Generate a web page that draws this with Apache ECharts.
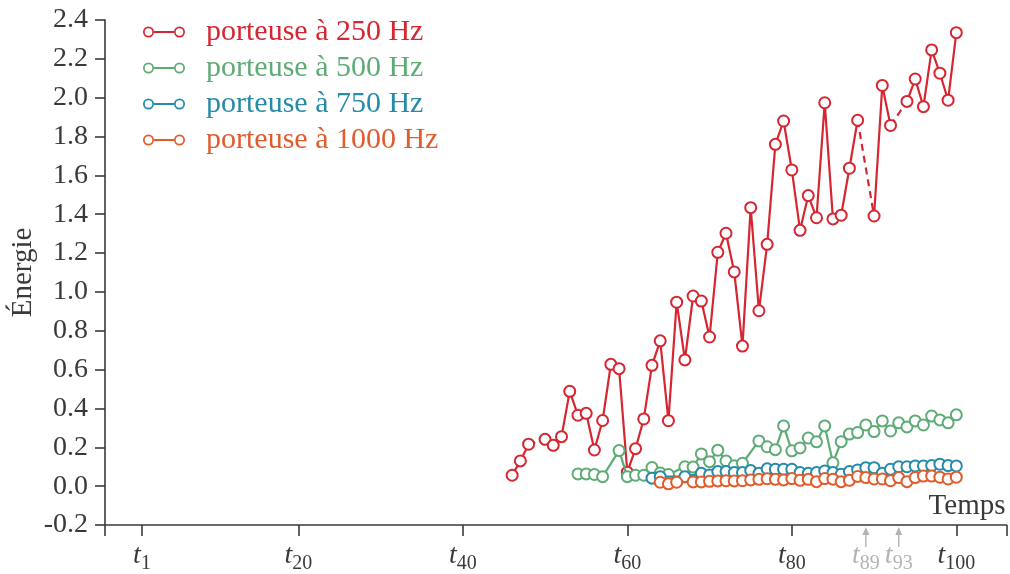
<!DOCTYPE html>
<html>
<head>
<meta charset="utf-8">
<script src="https://cdn.jsdelivr.net/npm/echarts@6/dist/echarts.min.js"></script>
<style>
  html, body { margin: 0; padding: 0; background: #fff; }
  #chart { width: 1010px; height: 574px; }
</style>
</head>
<body>
<div id="chart"></div>
<script>
// séries d'énergie, une valeur par instant t (null = point manquant)
const seriesNames = ['porteuse à 250 Hz', 'porteuse à 500 Hz', 'porteuse à 750 Hz', 'porteuse à 1000 Hz'];
const seriesColors = ['#d62631', '#5eab76', '#248ba8', '#e15b2b'];

const start250 = 46;
const energy250 = [0.056, 0.130, 0.216, null, 0.241, 0.210, 0.255, 0.488, 0.365, 0.375,
  0.186, 0.338, 0.627, 0.605, 0.072, 0.193, 0.346, 0.622, 0.748, 0.337,
  0.947, 0.650, 0.979, 0.953, 0.768, 1.204, 1.302, 1.103, 0.721, 1.434,
  0.903, 1.245, 1.760, 1.880, 1.628, 1.317, 1.496, 1.382, 1.974, 1.376,
  1.395, 1.637, 1.884, null, 1.391, 2.063, 1.857, null, 1.981, 2.096,
  1.954, 2.246, 2.126, 1.987, 2.335];

const start500 = 54;
const energy500 = [0.063, 0.063, 0.060, 0.049, null, 0.183, 0.049, 0.056, 0.056, 0.096,
  0.068, 0.060, null, 0.100, 0.098, 0.166, 0.126, 0.185, 0.130, 0.105,
  0.118, null, 0.233, 0.203, 0.188, 0.310, 0.182, 0.197, 0.248, 0.228,
  0.310, 0.120, 0.229, 0.268, 0.276, 0.315, 0.281, 0.336, 0.284, 0.326,
  0.305, 0.336, 0.315, 0.361, 0.341, 0.326, 0.367];

const start750 = 63;
const energy750 = [0.041, 0.049, null, null, 0.049, null, 0.066, 0.058, 0.075, 0.075,
  0.070, 0.070, 0.080, 0.066, 0.089, 0.087, 0.087, 0.087, 0.070, 0.066,
  0.070, 0.078, 0.070, 0.061, 0.075, 0.083, 0.095, 0.095, 0.066, 0.087,
  0.100, 0.100, 0.104, 0.104, 0.106, 0.113, 0.106, 0.104];

const start1000 = 64;
const energy1000 = [0.020, 0.012, 0.020, null, 0.022, 0.022, 0.025, 0.027, 0.028, 0.027,
  0.028, 0.032, 0.035, 0.038, 0.035, 0.032, 0.039, 0.030, 0.035, 0.023,
  0.039, 0.036, 0.023, 0.030, 0.050, 0.044, 0.037, 0.037, 0.028, 0.044,
  0.023, 0.044, 0.052, 0.052, 0.046, 0.037, 0.046];

const xTicks = [1, 20, 40, 60, 80, 89, 93, 100];
const markedTimes = [89, 93];
const yTicks = { min: -0.2, max: 2.4, step: 0.2 };

const FONT = 'Liberation Serif';
const TEXT = '#3a3a3a';
const GREY = '#b3b3b3';

function toPairs(start, values) {
  return values.map((v, i) => [start + i, v === null ? '-' : v]);
}

// segments en pointillés qui enjambent les points manquants de la série 250 Hz
function gapBridges(start, values) {
  const out = [];
  values.forEach((v, i) => {
    if (v !== null) return;
    const a = values[i - 1], b = values[i + 1];
    if (a == null || b == null) return;
    out.push([start + i - 1, a], [start + i + 1, b], ['-', '-']);
  });
  return out;
}

const legendIcon = 'path://M0,5.5 A5.5,5.5 0 1 0 11,5.5 A5.5,5.5 0 1 0 0,5.5 Z M1.7,5.5 A3.8,3.8 0 1 1 9.3,5.5 A3.8,3.8 0 1 1 1.7,5.5 Z '
  + 'M31,5.5 A5.5,5.5 0 1 0 42,5.5 A5.5,5.5 0 1 0 31,5.5 Z M32.7,5.5 A3.8,3.8 0 1 1 40.3,5.5 A3.8,3.8 0 1 1 32.7,5.5 Z '
  + 'M11,4.6 L31,4.6 L31,6.4 L11,6.4 Z';

const chart = echarts.init(document.getElementById('chart'), null, { renderer: 'canvas' });

const seriesData = [
  toPairs(start250, energy250),
  toPairs(start500, energy500),
  toPairs(start750, energy750),
  toPairs(start1000, energy1000),
];

const mainSeries = seriesNames.map((name, i) => ({
  name,
  type: 'line',
  data: seriesData[i],
  connectNulls: i !== 0,
  symbol: 'emptyCircle',
  symbolSize: 11,
  color: seriesColors[i],
  lineStyle: { color: seriesColors[i], width: 2.2 },
  itemStyle: { color: seriesColors[i], borderWidth: 1.9 },
  z: 3 + i,
}));

chart.setOption({
  animation: false,
  backgroundColor: '#fff',
  grid: { left: 105, right: 3.5, top: 20, bottom: 49, containLabel: false, outerBoundsMode: 'none' },
  legend: {
    orient: 'vertical',
    left: 143,
    top: 17,
    padding: 0,
    itemWidth: 42,
    itemHeight: 11,
    itemGap: 6,
    data: seriesNames.map((name, i) => ({
      name,
      icon: legendIcon,
      itemStyle: { color: seriesColors[i], borderWidth: 0 },
      textStyle: { color: seriesColors[i] },
    })),
    textStyle: { fontFamily: FONT, fontSize: 30, lineHeight: 30, padding: [0, 0, 0, 16] },
  },
  xAxis: {
    type: 'value',
    min: -3.5,
    max: 106.1,
    name: 'Temps',
    nameLocation: 'end',
    nameGap: -1,
    nameMoveOverlap: false,
    nameTextStyle: { fontFamily: FONT, fontSize: 29, color: TEXT, align: 'right', verticalAlign: 'bottom', padding: [0, 0, 4, 0] },
    axisLine: { onZero: false, lineStyle: { color: TEXT, width: 1.6 } },
    axisTick: { customValues: [-3.5, 1, 20, 40, 60, 80, 100, 106.1], length: 11, lineStyle: { color: TEXT, width: 1.6 } },
    splitLine: { show: false },
    axisLabel: {
      customValues: xTicks,
      margin: 13,
      formatter: v => markedTimes.includes(v) ? `{gt|t}{gs|${v}}` : `{t|t}{s|${v}}`,
      rich: {
        t: { fontFamily: FONT, fontStyle: 'italic', fontSize: 28, lineHeight: 36, color: TEXT },
        s: { fontFamily: FONT, fontSize: 20, lineHeight: 20, verticalAlign: 'bottom', color: TEXT },
        gt: { fontFamily: FONT, fontStyle: 'italic', fontSize: 28, lineHeight: 36, color: GREY },
        gs: { fontFamily: FONT, fontSize: 20, lineHeight: 20, verticalAlign: 'bottom', color: GREY },
      },
    },
  },
  yAxis: {
    type: 'value',
    min: yTicks.min,
    max: yTicks.max,
    interval: yTicks.step,
    name: 'Énergie',
    nameLocation: 'middle',
    nameGap: 67,
    nameMoveOverlap: false,
    nameTextStyle: { fontFamily: FONT, fontSize: 29, color: TEXT },
    axisLine: { show: true, onZero: false, lineStyle: { color: TEXT, width: 1.6 } },
    axisTick: { show: true, length: 10, lineStyle: { color: TEXT, width: 1.6 } },
    splitLine: { show: false },
    axisLabel: {
      margin: 17,
      fontFamily: FONT,
      fontSize: 28,
      color: TEXT,
      formatter: v => v.toFixed(1),
    },
  },
  series: [
    {
      name: 'lacunes',
      type: 'line',
      data: gapBridges(start250, energy250),
      symbol: 'none',
      connectNulls: false,
      lineStyle: { color: seriesColors[0], width: 2.2, type: [7, 5] },
      z: 2,
    },
    ...mainSeries,
  ],
});

// flèches grises sous l'axe pour les instants marqués
const axisY = chart.convertToPixel({ yAxisIndex: 0 }, yTicks.min);
chart.setOption({
  graphic: markedTimes.flatMap(t => {
    const x = chart.convertToPixel({ xAxisIndex: 0 }, t);
    return [
      { type: 'line', shape: { x1: x, y1: axisY + 22, x2: x, y2: axisY + 8 }, style: { stroke: GREY, lineWidth: 1.4 }, silent: true },
      { type: 'polygon', shape: { points: [[x, axisY + 2], [x - 3.5, axisY + 10], [x + 3.5, axisY + 10]] }, style: { fill: GREY }, silent: true },
    ];
  }),
});
</script>
</body>
</html>
